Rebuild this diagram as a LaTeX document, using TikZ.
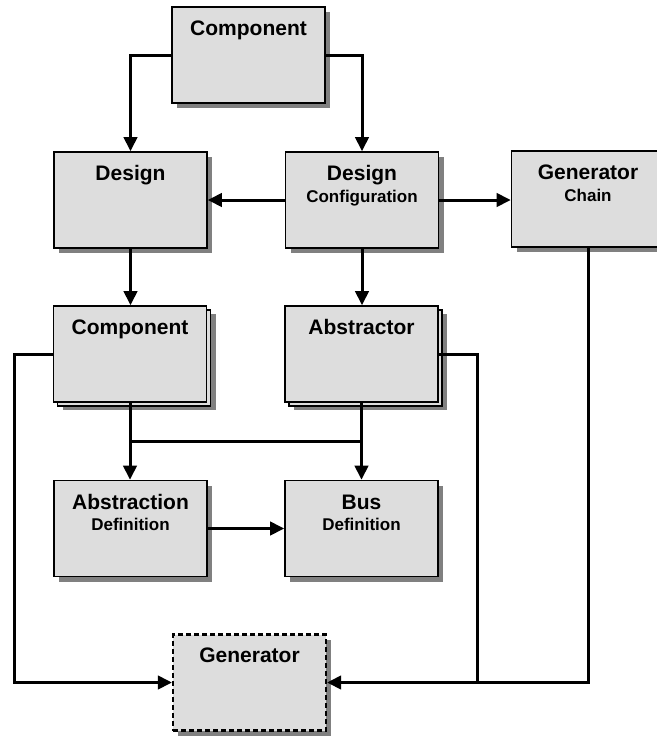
\documentclass[tikz,border=0pt]{standalone}
\usepackage{fontspec}
\setmainfont{Liberation Sans}
\usetikzlibrary{arrows.meta,shadows,calc}
\definecolor{boxgray}{HTML}{DDDDDD}
\definecolor{shadegray}{HTML}{808080}
\tikzset{
  boxbase/.style={draw=black, line width=1.2pt, fill=boxgray, minimum width=114.75pt, minimum height=72pt, inner sep=0pt},
  blk/.style={boxbase, drop shadow={shadow xshift=3.75pt, shadow yshift=-3.75pt, fill=shadegray, opacity=1}},
  stackblk/.style={boxbase,
    drop shadow={shadow xshift=6.75pt, shadow yshift=-6pt, fill=shadegray, opacity=1},
    copy shadow={shadow xshift=3pt, shadow yshift=-3pt, fill=boxgray, draw=black, line width=1.2pt}},
  title/.style={font=\bfseries\fontsize{15.75}{18}\selectfont, inner sep=0pt, anchor=base},
  subtitle/.style={font=\bfseries\fontsize{12.75}{15}\selectfont, inner sep=0pt, anchor=base},
  conn/.style={line width=2.25pt},
  arr/.style={conn, -{Triangle[length=10.5pt,width=10pt]}}
}
\begin{document}
\begin{tikzpicture}[x=0.75pt,y=0.75pt,yscale=-1,xscale=1]
\useasboundingbox (0,0) rectangle (657,736);

%Shape: Rectangle [Component]
\node[blk] (comp) at (248.5,55) {};
%Shape: Rectangle [Design]
\node[blk] (design) at (130.5,200) {};
%Shape: Rectangle [Design Configuration]
\node[blk] (config) at (362,200) {};
%Shape: Rectangle [Generator Chain]
\node[blk] (chain) at (588,199) {};
%Shape: Stacked Rectangle [Component]
\node[stackblk] (compB) at (130,354) {};
%Shape: Stacked Rectangle [Abstractor]
\node[stackblk] (abstr) at (361.5,354) {};
%Shape: Rectangle [Abstraction Definition]
\node[blk] (absdef) at (130.5,528.5) {};
%Shape: Rectangle [Bus Definition]
\node[blk] (busdef) at (361.5,528.5) {};
%Shape: Dashed Rectangle [Generator]
\node[blk, line width=1.6pt, dash pattern=on 3.75pt off 2.25pt] (gen) at (249.5,682.5) {};

% Text Node
\node[title] (compT) at ($(comp.north)+(0,29.5)$) {Component};
% Text Node
\node[title] (designT) at ($(design.north)+(0,29.5)$) {Design};
% Text Node
\node[title] (configT) at ($(config.north)+(0,29.5)$) {Design};
\node[subtitle] (configS) at ($(config.north)+(0,51)$) {Configuration};
% Text Node
\node[title] (chainT) at ($(chain.north)+(0,29.5)$) {Generator};
\node[subtitle] (chainS) at ($(chain.north)+(0,51)$) {Chain};
% Text Node
\node[title] (compBT) at ($(compB.north)+(0,29.5)$) {Component};
% Text Node
\node[title] (abstrT) at ($(abstr.north)+(0,29.5)$) {Abstractor};
% Text Node
\node[title] (absdefT) at ($(absdef.north)+(0,29.5)$) {Abstraction};
\node[subtitle] (absdefS) at ($(absdef.north)+(0,51)$) {Definition};
% Text Node
\node[title] (busdefT) at ($(busdef.north)+(0,29.5)$) {Bus};
\node[subtitle] (busdefS) at ($(busdef.north)+(0,51)$) {Definition};
% Text Node
\node[title] (genT) at ($(gen.north)+(0,29.5)$) {Generator};

%Connectors
\draw[arr] (comp.west) -| (design.north);
\draw[arr] (comp.east) -| (config.north);
\draw[arr] (config.west) -- (design.east);
\draw[arr] (config.east) -- (config.east -| chain.west);
\draw[arr] (design.south) -- (design.south |- compB.north);
\draw[arr] (config.south) -- (config.south |- abstr.north);
\coordinate (jn) at ($(compB.south)!0.5!(absdef.north)$);
\draw[arr] (compB.south) -- (compB.south |- absdef.north);
\draw[arr] (abstr.south) -- (abstr.south |- busdef.north);
\draw[conn] (compB.south |- jn) -- (abstr.south |- jn);
\draw[arr] (absdef.east) -- (busdef.west);
\coordinate (jl) at ($(compB.west)+(-38.5,0)$);
\coordinate (jr) at ($(abstr.east)+(39,0)$);
\draw[arr] (compB.west) -- (jl) |- (gen.west);
\draw[arr] (abstr.east) -- (jr) |- (gen.east);
\draw[conn] (chain.south) |- (jr |- gen.east);

\end{tikzpicture}
\end{document}
